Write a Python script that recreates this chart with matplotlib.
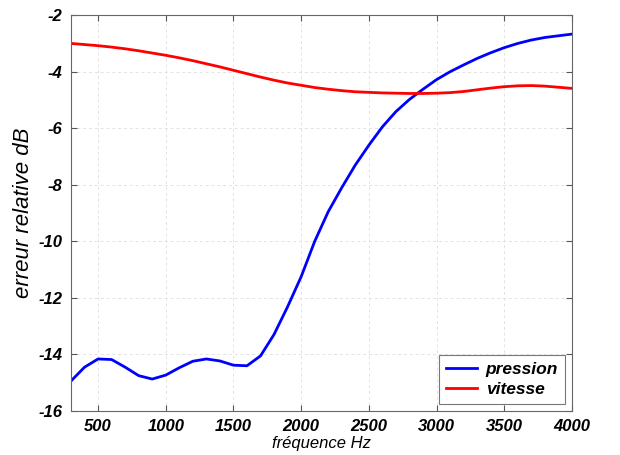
import matplotlib
matplotlib.use('Agg')
import matplotlib.pyplot as plt

# frequences (Hz)
freq = [300, 400, 500, 600, 700, 800, 900, 1000, 1100, 1200, 1300, 1400, 1500,
        1600, 1700, 1800, 1900, 2000, 2100, 2200, 2300, 2400, 2500, 2600, 2700,
        2800, 2900, 3000, 3100, 3200, 3300, 3400, 3500, 3600, 3700, 3800, 3900, 4000]

# erreur relative en dB
pression = [-14.94, -14.45, -14.16, -14.18, -14.45, -14.75, -14.87, -14.73, -14.47,
            -14.24, -14.16, -14.23, -14.38, -14.40, -14.05, -13.29, -12.31, -11.25,
            -10.0, -8.95, -8.1, -7.3, -6.6, -5.95, -5.41, -4.98, -4.62, -4.28, -4.0,
            -3.76, -3.53, -3.33, -3.15, -3.0, -2.88, -2.79, -2.73, -2.67]

vitesse = [-3.00, -3.04, -3.08, -3.13, -3.19, -3.26, -3.34, -3.42, -3.51, -3.61,
           -3.72, -3.83, -3.95, -4.07, -4.19, -4.30, -4.40, -4.48, -4.56, -4.62,
           -4.67, -4.71, -4.73, -4.75, -4.76, -4.77, -4.77, -4.76, -4.74, -4.70,
           -4.64, -4.58, -4.53, -4.50, -4.49, -4.51, -4.55, -4.59]

xticks = [500, 1000, 1500, 2000, 2500, 3000, 3500, 4000]
yticks = [-16, -14, -12, -10, -8, -6, -4, -2]

plt.rcParams['font.family'] = ['Liberation Sans', 'DejaVu Sans']

fig = plt.figure(figsize=(6.2, 4.55), dpi=100)
ax = fig.add_axes([0.1145, 0.0967, 0.808, 0.870])

ax.plot(freq, pression, color='#0000ff', lw=2, label='pression')
ax.plot(freq, vitesse, color='#ff0000', lw=2, label='vitesse')

ax.set_xlim(300, 4000)
ax.set_ylim(-16, -2)
ax.set_xticks(xticks)
ax.set_yticks(yticks)
ax.set_xticklabels([str(t) for t in xticks], fontsize=12, fontweight='bold', fontstyle='italic')
ax.set_yticklabels([str(t) for t in yticks], fontsize=12, fontweight='bold', fontstyle='italic')
ax.tick_params(direction='in', top=True, right=True, length=4, color='#555555', pad=6)

ax.grid(True, linestyle='--', color='#e2e2e2', lw=0.7, dashes=(3, 3))
for s in ax.spines.values():
    s.set_color('#666666')

ax.set_xlabel('fréquence Hz', fontsize=12, fontstyle='italic', labelpad=1)
ax.set_ylabel('erreur relative dB', fontsize=16, fontstyle='italic', labelpad=3)

leg = ax.legend(loc='lower right', fancybox=False, edgecolor='#555555',
                prop={'size': 12.5, 'style': 'italic', 'weight': 'bold'},
                borderaxespad=0.4, handlelength=1.8, handletextpad=0.5, labelspacing=0.3)
leg.get_frame().set_linewidth(0.8)

fig.savefig('out.png', dpi=100)
